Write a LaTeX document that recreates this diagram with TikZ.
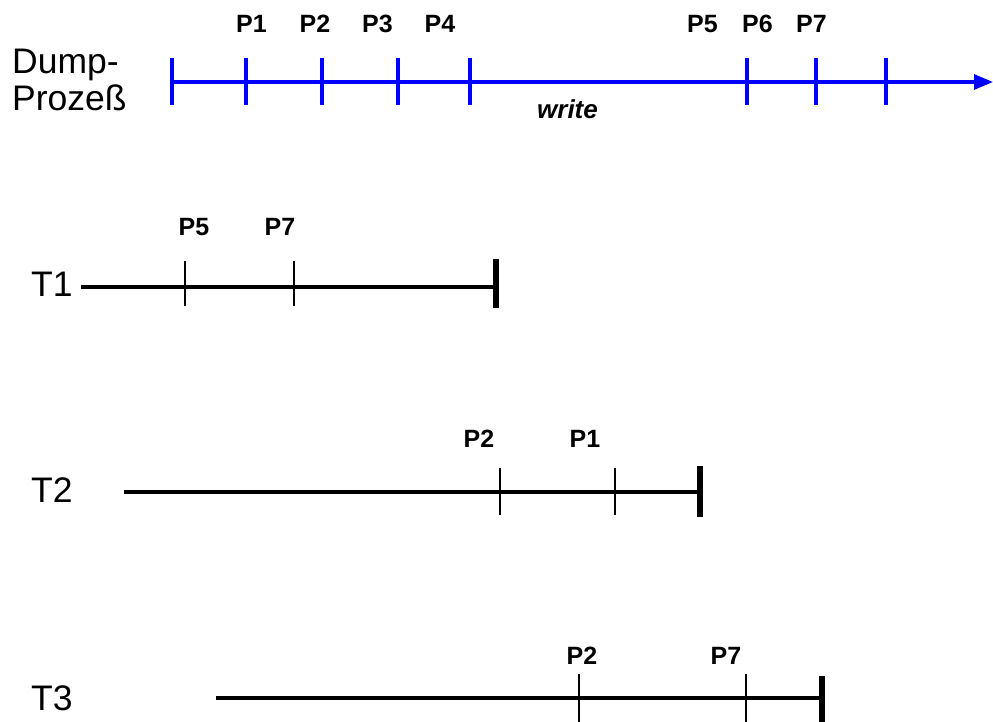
\documentclass[tikz,border=0pt]{standalone}
\usepackage{fontspec}
\setmainfont{Liberation Sans}
\usetikzlibrary{arrows.meta}
\definecolor{dumpblue}{RGB}{0,0,255}
\tikzset{
  big/.style={inner sep=0pt, font=\fontsize{35.5}{40}\selectfont},
  plabel/.style={inner sep=0pt, anchor=base, font=\fontsize{25}{28}\selectfont\bfseries},
  bluetick/.style={draw=dumpblue, line width=3.2pt},
  tline/.style={draw=black, line width=3.2pt},
  ttick/.style={draw=black, line width=2.8pt},
  tend/.style={draw=black, line width=6.5pt},
}
\begin{document}
\begin{tikzpicture}[x=1pt,y=-1pt]
\useasboundingbox (0,0) rectangle (993,722);
% Dump process
\node[big, anchor=base west] (d1) at (12,74) {Dump-};
\node[big, anchor=base west] (d2) at (12,111) {Prozeß};
\coordinate (ds) at (172,82);
\coordinate (de) at (993,82);
\draw[dumpblue, line width=3.2pt, -{Triangle[length=19pt,width=15pt]}] (ds) -- (de);
\foreach \x in {172,246,322,398,470,747,816,886}
  \draw[bluetick] (\x,58) -- (\x,105);
\node[plabel] (p1) at (251.5,33) {P1};
\node[plabel] (p2) at (315,33) {P2};
\node[plabel] (p3) at (377.5,33) {P3};
\node[plabel] (p4) at (440,33) {P4};
\node[plabel] (p5) at (702.5,33) {P5};
\node[plabel] (p6) at (757.5,33) {P6};
\node[plabel] (p7) at (811.5,33) {P7};
\node[inner sep=0pt, anchor=base, font=\fontsize{26}{30}\selectfont\bfseries\itshape] (wr) at (567.5,119) {write};
% T1
\node[big, anchor=base west] (t1) at (31,296) {T1};
\coordinate (t1s) at (81,287);
\coordinate (t1e) at (496,287);
\draw[tline] (t1s) -- (t1e);
\draw[ttick] (185,261) -- (185,306);
\draw[ttick] (294,261) -- (294,306);
\draw[tend] (496,259) -- (496,308);
\node[plabel] (t1p5) at (194,236) {P5};
\node[plabel] (t1p7) at (280,236) {P7};
% T2
\node[big, anchor=base west] (t2) at (31,502) {T2};
\coordinate (t2s) at (124,492);
\coordinate (t2e) at (700,492);
\draw[tline] (t2s) -- (t2e);
\draw[ttick] (500,468) -- (500,515);
\draw[ttick] (615,468) -- (615,515);
\draw[tend] (700,466) -- (700,517);
\node[plabel] (t2p2) at (479,447) {P2};
\node[plabel] (t2p1) at (585,447) {P1};
% T3
\node[big, anchor=base west] (t3) at (31,710) {T3};
\coordinate (t3s) at (216,698);
\coordinate (t3e) at (822,698);
\draw[tline] (t3s) -- (t3e);
\draw[ttick] (579,674) -- (579,722);
\draw[ttick, line width=2.2pt] (746,674) -- (746,722);
\draw[tend] (822,676) -- (822,722);
\node[plabel] (t3p2) at (582,664) {P2};
\node[plabel] (t3p7) at (726,664) {P7};
\end{tikzpicture}
\end{document}
